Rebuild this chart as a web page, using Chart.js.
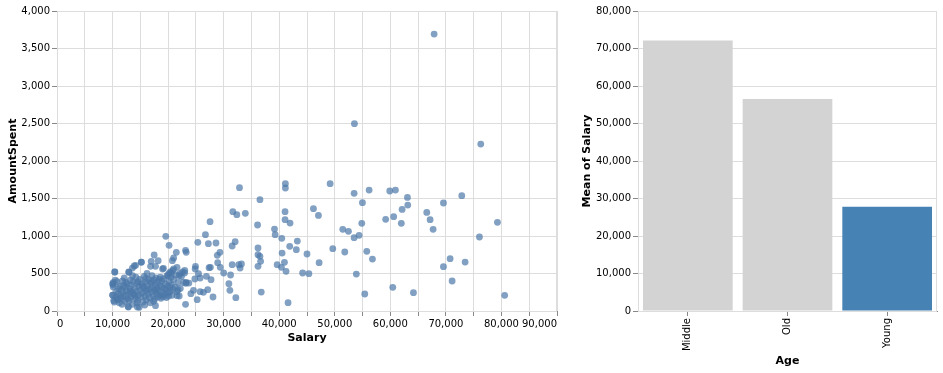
<!DOCTYPE html>
<html>
<head>
<meta charset="utf-8">
<script src="https://cdn.jsdelivr.net/npm/chart.js@4"></script>
<style>
  html, body { margin: 0; padding: 0; background: #fff; }
  #wrap { position: relative; width: 943px; height: 373px; }
  canvas { position: absolute; top: 0; }
  #scatterChart { left: 0; }
  #barChart { left: 575px; }
</style>
</head>
<body>
<div id="wrap">
  <canvas id="scatterChart" width="570" height="373"></canvas>
  <canvas id="barChart" width="368" height="373"></canvas>
</div>
<script>
// Salary vs AmountSpent
const salary = [
  32850, 36530, 41110, 41110, 31650, 32370, 33900, 27550, 36100, 41050, 41050, 41950,
  39150, 39270, 40460, 43260, 41890, 43080, 40520, 45000, 40940, 39630, 40400, 41230, 44210,
  45340, 41590, 36770, 36180, 36180, 36530, 36650, 36180, 32070, 31530, 31530, 32720, 33200, 32960,
  32190, 31240, 30940, 31120, 28080, 26720, 28620, 27250, 29330, 28860, 28920, 29390, 30000, 27610,
  27370, 27730, 26900, 25350, 24930, 24870, 25470, 25760, 24810, 26360, 27130, 25760, 25230, 24570,
  24100, 23740, 23260, 23140, 22970, 23140, 23260, 19580, 20170, 21480, 21000, 20770, 21600, 21600,
  21780, 17490, 18210, 16960, 16840, 17730, 15170, 14160, 13570, 12970, 10410, 19160, 20110, 20590,
  19990, 17730, 14460, 12850, 10000, 10000, 10120,
  67880, 53540, 76280, 49160, 53480, 56180, 59900, 60920, 63080, 72860, 54980, 46160, 47060, 63140,
  62120, 69560, 66560, 67160, 67700, 59160, 60600, 61980, 79280, 51440, 52460, 54380, 53480, 76040,
  54860, 49640, 51800, 55760, 56780, 47180, 69560, 70760, 73460, 71120, 53880, 60440, 55400,
  64160, 80580,
  10050, 10100, 10150, 10200, 10300, 10400, 10500, 10600, 10700, 10800, 10900, 11000, 11100, 11200,
  11300, 11400, 11500, 11600, 11700, 11800, 11900, 12000, 12100, 12200, 12300, 12400, 12500, 12600,
  12700, 12800, 12900, 13000, 13100, 13200, 13300, 13400, 13500, 13600, 13700, 13800, 13900, 14000,
  14100, 14200, 14300, 14400, 14500, 14600, 14700, 14800, 14900, 15000, 15100, 15200, 15300, 15400,
  15500, 15600, 15700, 15800, 15900, 16000, 16100, 16200, 16300, 16400, 16500, 16600, 16700, 16800,
  16900, 17000, 17100, 17200, 17300, 17400, 17500, 17600, 17700, 17800, 17900, 18000, 18100, 18200,
  18300, 18400, 18500, 18600, 18700, 18800, 18900, 19000, 19100, 19200, 19300, 19400, 19500, 19600,
  19700, 19800, 19900, 20000, 20100, 20200, 20300, 20400, 20500, 20600, 20700, 20800, 20900, 21000,
  21200, 21400, 21600, 21800, 22000, 22100, 22200, 22400, 22600, 22800, 23000, 23200, 12400, 13200,
  14000, 14600, 15400, 16200, 17000, 17800, 18600, 13600, 14400, 15800, 12000, 11000, 17400, 16000,
  13000, 19000, 20400, 21000, 22000
];
const amountSpent = [
  1644, 1484, 1698, 1640, 1324, 1284, 1302, 1191, 1147, 1324, 1218, 1173,
  1093, 1018, 969, 933, 862, 818, 773, 760, 649, 618, 582, 529, 507,
  498, 111, 253, 840, 751, 729, 662, 596, 924, 867, 618, 618, 627, 573,
  178, 480, 364, 276, 187, 1018, 907, 898, 782, 742, 644, 582, 507, 582,
  578, 418, 462, 916, 596, 560, 498, 440, 427, 249, 284, 258, 151, 276,
  231, 373, 382, 89, 507, 809, 782, 996, 876, 782, 707, 671, 582, 204,
  284, 747, 671, 662, 596, 596, 653, 609, 573, 516, 520, 569, 498, 507,
  471, 71, 53, 53, 213, 364, 320,
  3693, 2498, 2226, 1698, 1569, 1613, 1600, 1613, 1515, 1538, 1444, 1364, 1275, 1413,
  1355, 1440, 1315, 1218, 1089, 1222, 1258, 1169, 1182, 1089, 1062, 1009, 978, 987,
  1169, 831, 787, 796, 693, 644, 591, 698, 653, 400, 493, 316, 227,
  244, 209,
  210, 350, 380, 140, 120, 520, 410, 180, 260, 390, 150, 230, 300, 110,
  330, 200, 170, 280, 90, 400, 250, 190, 440, 130, 320, 210, 270, 360,
  160, 60, 520, 230, 300, 410, 180, 340, 250, 90, 390, 220, 600, 300,
  170, 450, 260, 370, 140, 210, 330, 50, 420, 280, 190, 650, 360, 240,
  120, 310, 460, 200, 380, 270, 150, 500, 340, 230, 420, 180, 290, 110,
  370, 250, 470, 320, 200, 410, 280, 160, 350, 440, 230, 300, 380, 190,
  270, 420, 340, 210, 170, 320, 400, 250, 190, 430, 300, 220, 360, 280,
  180, 470, 330, 240, 200, 390, 310, 260, 450, 350, 210, 540, 290, 420,
  320, 480, 260, 380, 200, 500, 300, 460, 520, 380, 540, 370, 380, 260,
  210, 390, 330, 290, 390, 270, 450, 470, 110, 80, 340, 160, 130, 430,
  140, 560, 520, 560, 470
];

// Mean of Salary by Age
const ageGroups = ["Middle", "Old", "Young"];
const meanSalary = [72160, 56530, 27810];
const barColors = ["#d3d3d3", "#d3d3d3", "#4682b4"];

const FONT = "'DejaVu Sans', sans-serif";
const fmt = (v) => Number(v).toLocaleString("en-US");

// light frame round the plot area, like the vega view stroke
const frame = {
  id: "frame",
  beforeDatasetsDraw(chart) {
    const { ctx, chartArea: a } = chart;
    ctx.save();
    ctx.strokeStyle = "#ddd";
    ctx.lineWidth = 1;
    ctx.strokeRect(a.left + 0.5, a.top + 0.5, a.right - a.left - 1, a.bottom - a.top);
    ctx.restore();
  },
};

const scatterPts = salary.map((s, i) => ({ x: s, y: amountSpent[i] }));

new Chart(document.getElementById("scatterChart"), {
  type: "scatter",
  data: {
    datasets: [
      {
        data: scatterPts,
        backgroundColor: "rgba(76, 120, 168, 0.7)",
        borderWidth: 0,
        pointRadius: 3.4,
      },
    ],
  },
  options: {
    responsive: false,
    animation: false,
    layout: { padding: { top: 11, right: 13, left: 0, bottom: 0 } },
    plugins: { legend: { display: false }, tooltip: { enabled: false } },
    scales: {
      x: {
        type: "linear",
        min: 0,
        max: 90000,
        afterFit: (s) => { s.height = 62; },
        ticks: {
          stepSize: 5000,
          autoSkip: false,
          maxRotation: 0,
          align: "inner",
          padding: 2,
          color: "#000",
          font: { family: FONT, size: 10 },
          callback: (v) => (v % 10000 === 0 ? fmt(v) : ""),
        },
        grid: { color: "#ddd", tickColor: "#888", tickLength: 5 },
        border: { color: "#888" },
        title: {
          display: true,
          text: "Salary",
          color: "#000",
          font: { family: FONT, size: 11, weight: "bold" },
          padding: { top: 0, bottom: 28 },
        },
      },
      y: {
        min: 0,
        max: 4000,
        afterFit: (s) => { s.width = 57; },
        ticks: {
          stepSize: 500,
          padding: 2,
          color: "#000",
          font: { family: FONT, size: 10 },
          callback: (v) => fmt(v),
        },
        grid: { color: "#ddd", tickColor: "#888", tickLength: 5 },
        border: { color: "#888" },
        title: {
          display: true,
          text: "AmountSpent",
          color: "#000",
          font: { family: FONT, size: 11, weight: "bold" },
          padding: { top: 7, bottom: 0 },
        },
      },
    },
  },
  plugins: [frame],
});

new Chart(document.getElementById("barChart"), {
  type: "bar",
  data: {
    labels: ageGroups,
    datasets: [
      {
        data: meanSalary,
        backgroundColor: barColors,
        barPercentage: 0.9,
        categoryPercentage: 1.0,
      },
    ],
  },
  options: {
    responsive: false,
    animation: false,
    layout: { padding: { top: 11, right: 6, left: 0, bottom: 0 } },
    plugins: { legend: { display: false }, tooltip: { enabled: false } },
    scales: {
      x: {
        afterFit: (s) => { s.height = 62; },
        ticks: {
          minRotation: 90,
          maxRotation: 90,
          padding: 2,
          color: "#000",
          font: { family: FONT, size: 10 },
        },
        grid: { drawOnChartArea: false, offset: false, tickColor: "#888", tickLength: 5 },
        border: { color: "#888" },
        title: {
          display: true,
          text: "Age",
          color: "#000",
          font: { family: FONT, size: 11, weight: "bold" },
          padding: { top: 0, bottom: 5 },
        },
      },
      y: {
        min: 0,
        max: 80000,
        afterFit: (s) => { s.width = 63; },
        ticks: {
          stepSize: 10000,
          padding: 2,
          color: "#000",
          font: { family: FONT, size: 10 },
          callback: (v) => fmt(v),
        },
        grid: { color: "#ddd", tickColor: "#888", tickLength: 5 },
        border: { color: "#888" },
        title: {
          display: true,
          text: "Mean of Salary",
          color: "#000",
          font: { family: FONT, size: 11, weight: "bold" },
          padding: { top: 6, bottom: 0 },
        },
      },
    },
  },
  plugins: [frame],
});
</script>
</body>
</html>
